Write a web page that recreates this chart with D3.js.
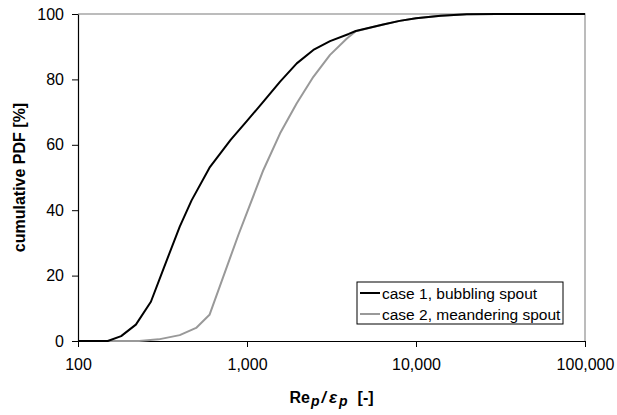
<!DOCTYPE html>
<html>
<head>
<meta charset="utf-8">
<script src="https://cdn.jsdelivr.net/npm/d3@7"></script>
<style>
  body { margin: 0; background: #fff; }
  svg { display: block; font-family: "Liberation Sans", Arial, sans-serif; }
</style>
</head>
<body>
<svg id="chart"></svg>
<script>
// case 1, bubbling spout
var case1X = [100, 150, 180, 220, 270, 320, 400, 470, 600, 800, 1000, 1250, 1570, 1970, 2470, 3100, 4000, 4400, 6400, 8000, 10000, 14000, 20000, 30000, 100000];
var case1Y = [0, 0, 1.5, 5, 12, 22, 35, 43, 53, 61.5, 67.3, 73.2, 79.3, 84.9, 89, 91.7, 93.9, 94.8, 96.8, 97.9, 98.7, 99.5, 99.9, 100, 100];

// case 2, meandering spout
var case2X = [100, 230, 300, 400, 500, 600, 890, 1250, 1570, 1970, 2470, 3100, 3900, 4400, 6400, 8000, 10000, 14000, 20000, 30000, 100000];
var case2Y = [0, 0, 0.5, 1.8, 4, 8, 32.5, 52.3, 63.5, 72.7, 80.8, 87.5, 92.5, 94.7, 96.8, 97.9, 98.7, 99.5, 99.9, 100, 100];

var seriesNames = ["case 1, bubbling spout", "case 2, meandering spout"];
var seriesColors = ["#000000", "#999999"];
var xTicks = [100, 1000, 10000, 100000];
var yTicks = [0, 20, 40, 60, 80, 100];

var width = 617, height = 415;
var margin = {top: 14, right: 32, bottom: 74, left: 78};

var svg = d3.select('#chart')
  .attr('width', width)
  .attr('height', height);

var x = d3.scaleLog().domain([100, 100000]).range([margin.left, width - margin.right]);
var y = d3.scaleLinear().domain([0, 100]).range([height - margin.bottom, margin.top]);

var fmt = d3.format(",");

// plot border (top and right in grey)
svg.append('path')
  .attr('d', 'M' + x(100) + ',' + y(100) + 'H' + x(100000) + 'V' + y(0))
  .attr('fill', 'none')
  .attr('stroke', '#a6a6a6')
  .attr('stroke-width', 1.5);

// axes
var xAxis = svg.append('g')
  .attr('transform', 'translate(0,' + y(0) + ')')
  .call(d3.axisBottom(x).tickValues(xTicks).tickFormat(fmt).tickSizeInner(6).tickSizeOuter(0).tickPadding(12));

var yAxis = svg.append('g')
  .attr('transform', 'translate(' + x(100) + ',0)')
  .call(d3.axisLeft(y).tickValues(yTicks).tickSizeInner(6).tickSizeOuter(0).tickPadding(8));

[xAxis, yAxis].forEach(function(a){
  a.selectAll('text').attr('font-size', 16).attr('fill', '#000').attr('font-family', '"Liberation Sans", Arial, sans-serif');
  a.selectAll('line').attr('stroke', '#000');
  a.select('.domain').attr('stroke', '#000').attr('stroke-width', 1.2);
});

// lines
var line = d3.line()
  .x(function(d) {return x(d[0])})
  .y(function(d) {return y(d[1])});

var series = [
  d3.zip(case1X, case1Y),
  d3.zip(case2X, case2Y)
];

// draw grey first so black sits on top
[1, 0].forEach(function(i){
  svg.append('path')
    .datum(series[i])
    .attr('d', line)
    .attr('fill', 'none')
    .attr('stroke', seriesColors[i])
    .attr('stroke-width', 2)
    .attr('stroke-linejoin', 'round');
});

// legend
var legend = svg.append('g').attr('transform', 'translate(357,282)');
legend.append('rect')
  .attr('width', 206).attr('height', 42)
  .attr('fill', '#fff').attr('stroke', '#000').attr('stroke-width', 1);

seriesNames.forEach(function(name, i){
  var yy = 11 + i * 21;
  legend.append('line')
    .attr('x1', 3).attr('x2', 23).attr('y1', yy).attr('y2', yy)
    .attr('stroke', seriesColors[i]).attr('stroke-width', 2);
  legend.append('text')
    .attr('x', 25).attr('y', yy + 5.5)
    .attr('font-size', 15.5)
    .text(name);
});

// axis titles
svg.append('text')
  .attr('transform', 'translate(25,' + ((margin.top + height - margin.bottom) / 2) + ') rotate(-90)')
  .attr('text-anchor', 'middle')
  .attr('font-size', 16)
  .attr('font-weight', 'bold')
  .text('cumulative PDF [%]');

var xTitle = svg.append('text')
  .attr('x', (margin.left + width - margin.right) / 2)
  .attr('y', 403)
  .attr('text-anchor', 'middle')
  .attr('font-size', 16)
  .attr('font-weight', 'bold');
xTitle.append('tspan').text('Re');
xTitle.append('tspan').attr('font-style', 'italic').attr('font-size', 14).attr('dy', 3).attr('dx', 1).text('p');
xTitle.append('tspan').attr('font-style', 'italic').attr('dy', -3).attr('dx', 2).text('/');
xTitle.append('tspan').attr('font-style', 'italic').attr('font-size', 17).attr('dx', 3).text('ε');
xTitle.append('tspan').attr('font-style', 'italic').attr('font-size', 14).attr('dy', 3).attr('dx', 2).text('p');
xTitle.append('tspan').attr('dy', -3).attr('dx', 10).text('[-]');
</script>
</body>
</html>
